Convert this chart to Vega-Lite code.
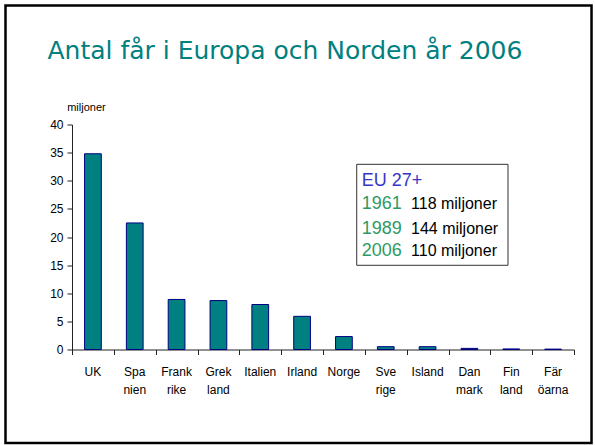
{
  "$schema": "https://vega.github.io/schema/vega-lite/v6.json",
  "width": 502,
  "height": 225,
  "autosize": {"type": "none"},
  "padding": {"left": 72, "top": 124.5, "right": 21, "bottom": 95.5},
  "background": "white",
  "config": {
    "view": {"stroke": null},
    "axisY": {
      "grid": false, "tickSize": 5, "labelPadding": 4,
      "labelFont": "Liberation Sans", "labelFontSize": 12, "labelColor": "#000",
      "labelFlush": false, "labelOverlap": false, "domainColor": "#222", "tickColor": "#222"
    }
  },
  "datasets": {
    "sheep": [
      {"land": "UK", "antal": 34.8},
      {"land": "Spa|nien", "antal": 22.5},
      {"land": "Frank|rike", "antal": 8.9},
      {"land": "Grek|land", "antal": 8.7},
      {"land": "Italien", "antal": 8.0},
      {"land": "Irland", "antal": 5.9},
      {"land": "Norge", "antal": 2.3},
      {"land": "Sve|rige", "antal": 0.5},
      {"land": "Island", "antal": 0.5},
      {"land": "Dan|mark", "antal": 0.2},
      {"land": "Fin|land", "antal": 0.1},
      {"land": "Fär|öarna", "antal": 0.07}
    ],
    "eu": [
      {"year": "1961", "amount": "118 miljoner"},
      {"year": "1989", "amount": "144 miljoner"},
      {"year": "2006", "amount": "110 miljoner"}
    ]
  },
  "layer": [
    {
      "data": {"name": "sheep"},
      "mark": {"type": "bar", "fill": "#008080", "stroke": "#000080", "strokeWidth": 1},
      "encoding": {
        "x": {
          "field": "land", "type": "nominal", "sort": null,
          "scale": {"paddingInner": 0.6, "paddingOuter": 0.3},
          "axis": {
            "title": null, "ticks": false, "domain": false, "labelAngle": 0,
            "labelFont": "Liberation Sans", "labelFontSize": 12, "labelColor": "#000",
            "labelPadding": 17, "labelLineHeight": 18,
            "labelExpr": "split(datum.label, '|')"
          }
        },
        "y": {
          "field": "antal", "type": "quantitative",
          "scale": {"domain": [0, 40], "nice": false},
          "axis": {"title": null, "values": [0, 5, 10, 15, 20, 25, 30, 35, 40]}
        }
      }
    },
    {
      "layer": [
        {
          "data": {"values": [{}]},
          "mark": {"type": "rect", "fill": null, "stroke": "#000", "strokeWidth": 2.5},
          "encoding": {
            "x": {"datum": -1.5897, "type": "quantitative",
              "scale": {"domain": [0, 12], "nice": false, "zero": false},
              "axis": {"orient": "bottom", "title": null, "grid": false, "labels": false,
                "values": [0, 1, 2, 3, 4, 5, 6, 7, 8, 9, 10, 11, 12],
                "tickSize": 5, "domainColor": "#222", "tickColor": "#222"}},
            "x2": {"datum": 12.419},
            "y": {"datum": 61.156, "type": "quantitative", "scale": {"domain": [0, 40], "nice": false}, "axis": {"title": null, "values": [0, 5, 10, 15, 20, 25, 30, 35, 40]}},
            "y2": {"datum": -16.622}
          }
        },
        {
          "data": {"values": [{}]},
          "mark": {"type": "rect", "fill": null, "stroke": "#333", "strokeWidth": 1},
          "encoding": {
            "x": {"datum": 6.806, "type": "quantitative", "scale": {"domain": [0, 12], "nice": false, "zero": false}, "title": null},
            "x2": {"datum": 10.422},
            "y": {"datum": 32.92, "type": "quantitative", "scale": {"domain": [0, 40], "nice": false}, "axis": {"title": null, "values": [0, 5, 10, 15, 20, 25, 30, 35, 40]}},
            "y2": {"datum": 14.97}
          }
        },
        {
          "data": {"values": [{"t": "Antal får i Europa och Norden år 2006"}]},
          "mark": {"type": "text", "align": "left", "baseline": "alphabetic", "font": "DejaVu Sans", "fontSize": 25, "color": "#008080"},
          "encoding": {
            "x": {"datum": -0.5857, "type": "quantitative", "scale": {"domain": [0, 12], "nice": false, "zero": false}, "title": null},
            "y": {"datum": 51.6, "type": "quantitative", "scale": {"domain": [0, 40], "nice": false}, "axis": {"title": null, "values": [0, 5, 10, 15, 20, 25, 30, 35, 40]}},
            "text": {"field": "t"}
          }
        },
        {
          "data": {"values": [{"t": "miljoner"}]},
          "mark": {"type": "text", "align": "left", "baseline": "alphabetic", "font": "Liberation Sans", "fontSize": 11, "color": "#000"},
          "encoding": {
            "x": {"datum": -0.115, "type": "quantitative", "scale": {"domain": [0, 12], "nice": false, "zero": false}, "title": null},
            "y": {"datum": 42.4, "type": "quantitative", "scale": {"domain": [0, 40], "nice": false}, "axis": {"title": null, "values": [0, 5, 10, 15, 20, 25, 30, 35, 40]}},
            "text": {"field": "t"}
          }
        },
        {
          "data": {"values": [{"t": "EU 27+"}]},
          "mark": {"type": "text", "align": "left", "baseline": "alphabetic", "font": "Liberation Sans", "fontSize": 18, "color": "#3535c8"},
          "encoding": {
            "x": {"datum": 6.928, "type": "quantitative", "scale": {"domain": [0, 12], "nice": false, "zero": false}, "title": null},
            "y": {"datum": 29.07, "type": "quantitative", "scale": {"domain": [0, 40], "nice": false}, "axis": {"title": null, "values": [0, 5, 10, 15, 20, 25, 30, 35, 40]}},
            "text": {"field": "t"}
          }
        },
        {
          "data": {"name": "eu"},
          "transform": [{"filter": "datum.year == '1961'"}],
          "layer": [
            {
              "mark": {"type": "text", "align": "left", "baseline": "alphabetic", "font": "Liberation Sans", "fontSize": 18, "color": "#2f9966"},
              "encoding": {
                "x": {"datum": 6.928, "type": "quantitative", "scale": {"domain": [0, 12], "nice": false, "zero": false}, "title": null},
                "y": {"datum": 24.92, "type": "quantitative", "scale": {"domain": [0, 40], "nice": false}, "axis": {"title": null, "values": [0, 5, 10, 15, 20, 25, 30, 35, 40]}},
                "text": {"field": "year"}
              }
            },
            {
              "mark": {"type": "text", "align": "left", "baseline": "alphabetic", "font": "Liberation Sans", "fontSize": 16, "color": "#000"},
              "encoding": {
                "x": {"datum": 8.104, "type": "quantitative", "scale": {"domain": [0, 12], "nice": false, "zero": false}, "title": null},
                "y": {"datum": 24.92, "type": "quantitative", "scale": {"domain": [0, 40], "nice": false}, "axis": {"title": null, "values": [0, 5, 10, 15, 20, 25, 30, 35, 40]}},
                "text": {"field": "amount"}
              }
            }
          ]
        },
        {
          "data": {"name": "eu"},
          "transform": [{"filter": "datum.year == '1989'"}],
          "layer": [
            {
              "mark": {"type": "text", "align": "left", "baseline": "alphabetic", "font": "Liberation Sans", "fontSize": 18, "color": "#2f9966"},
              "encoding": {
                "x": {"datum": 6.928, "type": "quantitative", "scale": {"domain": [0, 12], "nice": false, "zero": false}, "title": null},
                "y": {"datum": 20.59, "type": "quantitative", "scale": {"domain": [0, 40], "nice": false}, "axis": {"title": null, "values": [0, 5, 10, 15, 20, 25, 30, 35, 40]}},
                "text": {"field": "year"}
              }
            },
            {
              "mark": {"type": "text", "align": "left", "baseline": "alphabetic", "font": "Liberation Sans", "fontSize": 16, "color": "#000"},
              "encoding": {
                "x": {"datum": 8.104, "type": "quantitative", "scale": {"domain": [0, 12], "nice": false, "zero": false}, "title": null},
                "y": {"datum": 20.59, "type": "quantitative", "scale": {"domain": [0, 40], "nice": false}, "axis": {"title": null, "values": [0, 5, 10, 15, 20, 25, 30, 35, 40]}},
                "text": {"field": "amount"}
              }
            }
          ]
        },
        {
          "data": {"name": "eu"},
          "transform": [{"filter": "datum.year == '2006'"}],
          "layer": [
            {
              "mark": {"type": "text", "align": "left", "baseline": "alphabetic", "font": "Liberation Sans", "fontSize": 18, "color": "#2f9966"},
              "encoding": {
                "x": {"datum": 6.928, "type": "quantitative", "scale": {"domain": [0, 12], "nice": false, "zero": false}, "title": null},
                "y": {"datum": 16.57, "type": "quantitative", "scale": {"domain": [0, 40], "nice": false}, "axis": {"title": null, "values": [0, 5, 10, 15, 20, 25, 30, 35, 40]}},
                "text": {"field": "year"}
              }
            },
            {
              "mark": {"type": "text", "align": "left", "baseline": "alphabetic", "font": "Liberation Sans", "fontSize": 16, "color": "#000"},
              "encoding": {
                "x": {"datum": 8.104, "type": "quantitative", "scale": {"domain": [0, 12], "nice": false, "zero": false}, "title": null},
                "y": {"datum": 16.57, "type": "quantitative", "scale": {"domain": [0, 40], "nice": false}, "axis": {"title": null, "values": [0, 5, 10, 15, 20, 25, 30, 35, 40]}},
                "text": {"field": "amount"}
              }
            }
          ]
        }
      ]
    }
  ],
  "resolve": {"scale": {"x": "independent"}}
}
